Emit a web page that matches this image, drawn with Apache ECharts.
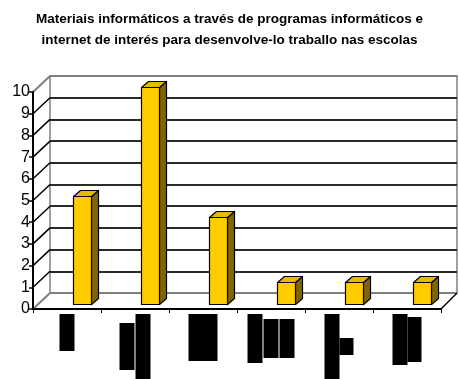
<!DOCTYPE html>
<html>
<head>
<meta charset="utf-8">
<script src="https://cdn.jsdelivr.net/npm/echarts@6/dist/echarts.min.js"></script>
<style>
  html, body { margin: 0; padding: 0; background: #fff; }
  #chart { width: 459px; height: 379px; }
</style>
</head>
<body>
<div id="chart"></div>
<script>
// Chart data
const titleText = 'Materiais informáticos a través de programas informáticos e\ninternet de interés para desenvolve-lo traballo nas escolas';
const categories = ['█', '██', '█', '███', '██', '██'];
const values = [5, 10, 4, 1, 1, 1];
const yTicks = [0, 1, 2, 3, 4, 5, 6, 7, 8, 9, 10];

// Glyph boxes used for the category labels (one entry per glyph column)
const glyphBoxes = [
  [[15, 37]],
  [[15, 47], [15, 65]],
  [[29, 47]],
  [[15, 49], [15, 39], [15, 39]],
  [[15, 65], [14, 17]],
  [[15, 51], [14, 45]]
];
const glyphGap = [0, 1, 0, 1, 0, 0];

const rich = { g: { width: 1, height: 1, fontSize: 1, color: 'rgba(0,0,0,0)' } };
glyphBoxes.forEach((cols, i) => {
  cols.forEach((wh, j) => {
    rich['c' + i + '_' + j] = {
      width: wh[0], height: wh[1], backgroundColor: '#000', color: '#000',
      fontSize: 10, align: 'center', verticalAlign: 'middle'
    };
  });
});

const FONT = '"Liberation Sans", Arial, sans-serif';
const DEPTH_X = 17, DEPTH_Y = -16;    // front plane -> back wall offset
const SIDE_X = 7, SIDE_Y = -6;        // bar depth
const EDGE_GRAY = '#808080';

const chart = echarts.init(document.getElementById('chart'), null, { renderer: 'canvas' });

chart.setOption({
  animation: false,
  backgroundColor: '#fff',
  title: {
    text: titleText,
    left: 'center',
    top: 4,
    textStyle: { fontFamily: FONT, fontSize: 13.5, fontWeight: 'bold', color: '#000', lineHeight: 21 }
  },
  grid: [
    // front plane: value axis + category axis
    { left: 33, right: 18, top: 92, bottom: 70 },
    // bar plane
    { left: 48, right: 3, top: 87, bottom: 75 },
    // back wall
    { left: 50, right: 2, top: 76, bottom: 86, show: true, borderColor: EDGE_GRAY, borderWidth: 1.5 }
  ],
  xAxis: [
    {
      gridIndex: 0, type: 'category', data: categories, z: 4,
      axisLine: { lineStyle: { color: '#000', width: 2 } },
      axisTick: { show: true, length: 4, interval: 0, lineStyle: { color: '#000', width: 1 } },
      axisLabel: {
        interval: 0, margin: 5,
        formatter: (val, idx) => val.split('').map((ch, j) => '{c' + idx + '_' + j + '|' + ch + '}')
          .join(glyphGap[idx] ? '{g| }' : ''),
        rich: rich
      }
    },
    { gridIndex: 1, type: 'category', data: categories, show: false },
    { gridIndex: 2, type: 'category', data: categories, show: false }
  ],
  yAxis: [
    {
      gridIndex: 0, type: 'value', min: 0, max: 10, interval: 1, z: 4,
      axisLine: { show: true, lineStyle: { color: '#000', width: 2 } },
      axisTick: { show: true, length: 4, lineStyle: { color: '#000', width: 1.5 } },
      axisLabel: { margin: 3, fontFamily: FONT, fontSize: 16, color: '#000' },
      splitLine: { show: false }
    },
    { gridIndex: 1, type: 'value', min: 0, max: 10, interval: 1, show: false, splitLine: { show: false } },
    {
      gridIndex: 2, type: 'value', min: 0, max: 10, interval: 1,
      axisLine: { show: false }, axisTick: { show: false }, axisLabel: { show: false },
      splitLine: {
        show: true,
        lineStyle: {
          width: 2,
          color: yTicks.map((t, k) => (k === 0 || k === yTicks.length - 1) ? EDGE_GRAY : '#2a2a2a')
        }
      }
    }
  ],
  series: [
    // side wall lines running from the front axis back to the wall
    {
      type: 'custom', xAxisIndex: 0, yAxisIndex: 0, silent: true, z: 1,
      data: yTicks.map(t => [0, t]),
      renderItem: (params, api) => {
        const v = api.value(1);
        const y = api.coord([0, v])[1];
        const x = params.coordSys.x;
        const edge = v === yTicks[0] || v === yTicks[yTicks.length - 1];
        return {
          type: 'line',
          shape: { x1: x, y1: y, x2: x + DEPTH_X, y2: y + DEPTH_Y },
          style: { stroke: edge ? EDGE_GRAY : '#000', lineWidth: edge ? 2 : 1.5 }
        };
      }
    },
    // right edge of the floor
    {
      type: 'custom', xAxisIndex: 0, yAxisIndex: 0, silent: true, z: 1,
      data: [[0, 0]],
      renderItem: (params, api) => {
        const y = api.coord([0, 0])[1];
        const x = params.coordSys.x + params.coordSys.width;
        return {
          type: 'line',
          shape: { x1: x, y1: y, x2: x + DEPTH_X - 1, y2: y + DEPTH_Y },
          style: { stroke: '#000', lineWidth: 1.5 }
        };
      }
    },
    // 3D bars
    {
      type: 'custom', xAxisIndex: 1, yAxisIndex: 1, z: 5,
      data: values.map((v, i) => [i, v]),
      renderItem: (params, api) => {
        const i = api.value(0);
        const v = api.value(1);
        const base = api.coord([i, 0]);
        const top = api.coord([i, v]);
        const band = api.size([1, 0])[0];
        const w = Math.round(band * 0.265);
        const l = Math.round(base[0] - w / 2) + 0.5;
        const r = l + w;
        const b = Math.round(base[1]) + 0.5;
        const t = Math.round(top[1]) + 0.5;
        const stroke = { stroke: '#000', lineWidth: 1.2, lineJoin: 'round' };
        return {
          type: 'group',
          children: [
            {
              type: 'polygon',
              shape: { points: [[r, t], [r + SIDE_X, t + SIDE_Y], [r + SIDE_X, b + SIDE_Y], [r, b]] },
              style: Object.assign({ fill: '#806600' }, stroke)
            },
            {
              type: 'polygon',
              shape: { points: [[l, t], [l + SIDE_X, t + SIDE_Y], [r + SIDE_X, t + SIDE_Y], [r, t]] },
              style: Object.assign({ fill: '#E6B800' }, stroke)
            },
            {
              type: 'rect',
              shape: { x: l, y: t, width: w, height: b - t },
              style: Object.assign({ fill: '#FFCC00' }, stroke)
            }
          ]
        };
      }
    }
  ]
});
</script>
</body>
</html>
